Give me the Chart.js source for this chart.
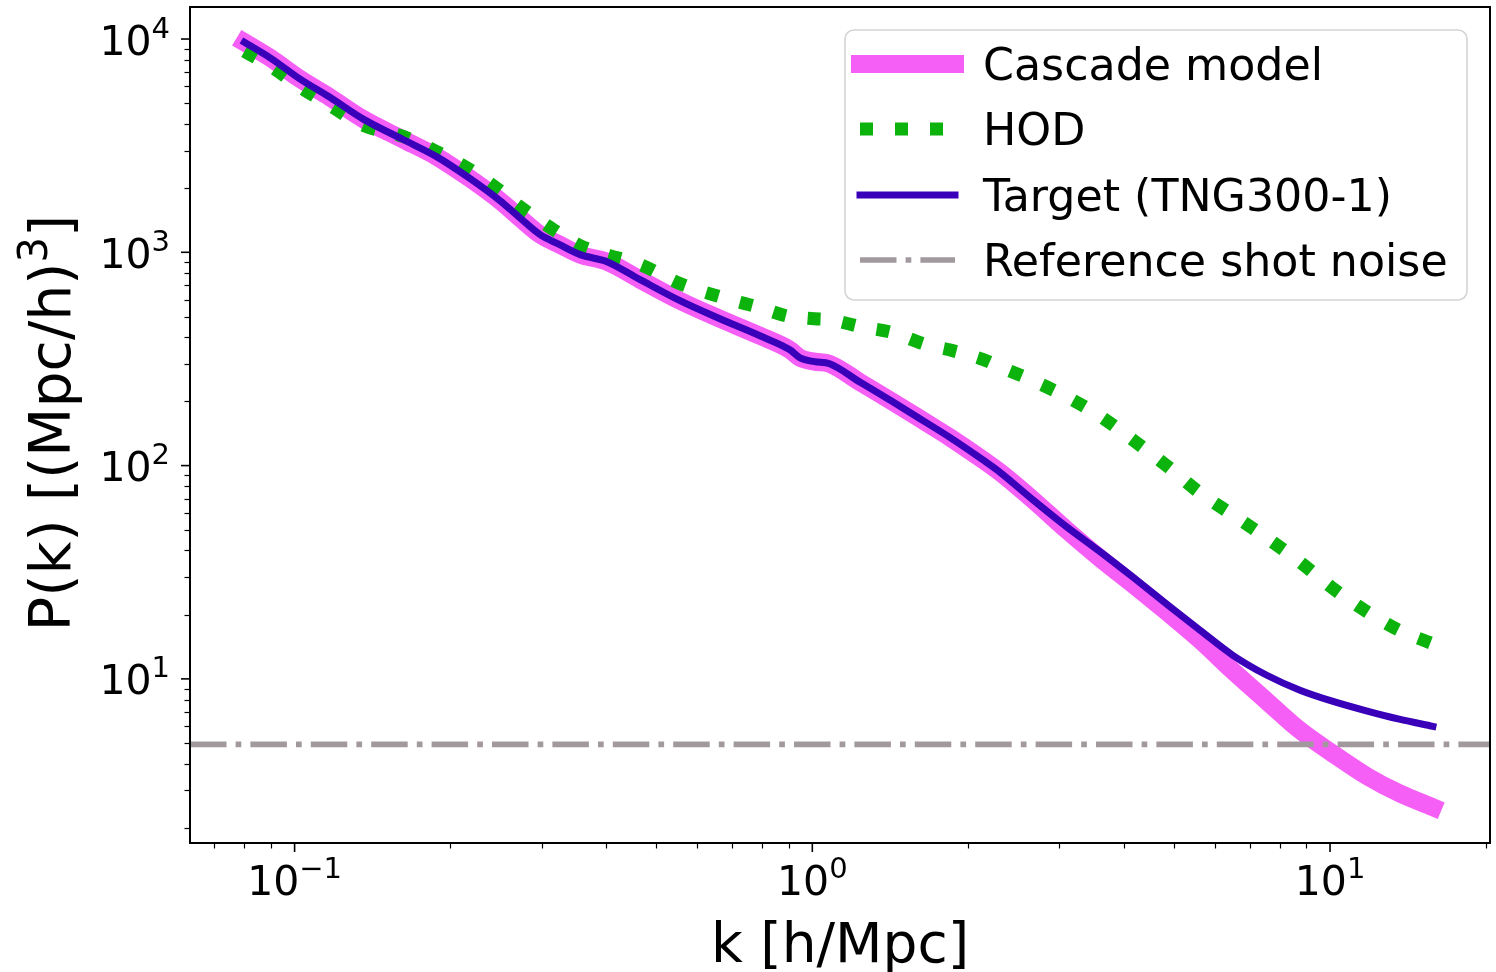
<!DOCTYPE html>
<html>
<head>
<meta charset="utf-8">
<script src="https://cdn.jsdelivr.net/npm/chart.js@4.4.0/dist/chart.umd.min.js"></script>
<style>
  html, body { margin: 0; padding: 0; background: #fff; }
  #chart-container { width: 1496px; height: 972px; }
</style>
</head>
<body>
<div id="chart-container"><canvas id="myChart" width="1496" height="972"></canvas></div>
<script>
// k bins [h/Mpc], shared by all curves
const kValues = [0.080, 0.090, 0.102, 0.117, 0.136, 0.162, 0.188, 0.218, 0.249, 0.272,
  0.298, 0.325, 0.356, 0.401, 0.465, 0.555, 0.663, 0.792, 0.905, 0.947,
  1.01, 1.08, 1.24, 1.43, 1.66, 1.84, 2.14, 2.30, 2.67, 3.10,
  3.59, 4.16, 4.84, 5.61, 6.49, 7.55, 8.75, 10.1, 11.8, 13.6, 15.8];

// P(k) [(Mpc/h)^3]
const targetP = [9650, 8120, 6540, 5330, 4200, 3380, 2810, 2220, 1750, 1455,
  1210, 1087, 975, 904, 744, 593, 488, 406, 349, 320,
  307, 300, 245, 199, 159, 136, 106, 93.4, 69.0, 51.6,
  39.6, 30.0, 22.4, 16.9, 12.9, 10.4, 8.85, 7.86, 7.06, 6.47, 5.99];
const cascadeP = [9650, 8120, 6540, 5330, 4200, 3380, 2810, 2220, 1750, 1455,
  1210, 1087, 975, 904, 744, 593, 488, 406, 349, 320,
  307, 300, 245, 199, 159, 136, 106, 93.4, 69.0, 49.9,
  36.9, 27.8, 20.6, 15.2, 10.9, 7.86, 5.74, 4.48, 3.49, 2.91, 2.50];
const hodP = [8756, 7443, 5997, 4883, 3932, 3494, 2970, 2445, 1949, 1639,
  1408, 1224, 1075, 975, 876, 713, 619, 550, 499, 494,
  488, 483, 448, 420, 369, 349, 314, 291, 250, 210,
  171, 132, 99.7, 74.4, 58.7, 45.8, 35.3, 26.7, 20.6, 16.9, 14.6];
const shotNoise = 4.93;

// axis limits and tick labels
const xLimits = [0.0628, 20.37];
const yLimits = [1.70, 14130];
const xMajorTicks = [0.1, 1, 10];
const xTickExponents = ["\u22121", "0", "1"];
const yMajorTicks = [10, 100, 1000, 10000];
const yTickExponents = ["1", "2", "3", "4"];
const seriesLabels = ["Cascade model", "HOD", "Target (TNG300-1)", "Reference shot noise"];

const fontFamily = '"DejaVu Sans", sans-serif';

// minor tick values (m * 10^e) inside the limits
function minorTicks(lo, hi) {
  const out = [];
  for (let e = -3; e <= 5; e++) {
    for (let m = 2; m <= 9; m++) {
      const v = m * Math.pow(10, e);
      if (v >= lo && v <= hi) out.push(v);
    }
  }
  return out;
}

// draw "10^n" style label, base + raised exponent
function drawPower(ctx, base, exp, x, baseline, align) {
  ctx.font = "41px " + fontFamily;
  const wb = ctx.measureText(base).width;
  ctx.font = "29px " + fontFamily;
  const we = ctx.measureText(exp).width;
  const x0 = align === "center" ? x - (wb + we) / 2 : x - wb - we;
  ctx.textAlign = "left";
  ctx.textBaseline = "alphabetic";
  ctx.font = "41px " + fontFamily;
  ctx.fillText(base, x0, baseline);
  ctx.font = "29px " + fontFamily;
  ctx.fillText(exp, x0 + wb, baseline - 17);
}

const axesDecor = {
  id: "axesDecor",
  afterDatasetsDraw(chart) {
    const ctx = chart.ctx;
    const area = chart.chartArea;
    const xs = chart.scales.x;
    const ys = chart.scales.y;
    ctx.save();
    ctx.strokeStyle = "#000";
    ctx.fillStyle = "#000";

    // spines
    ctx.lineWidth = 2;
    ctx.strokeRect(area.left, area.top, area.right - area.left, area.bottom - area.top);

    // x ticks
    ctx.lineWidth = 1.2;
    minorTicks(xLimits[0], xLimits[1]).forEach((v) => {
      const px = Math.round(xs.getPixelForValue(v)) + 0.5;
      ctx.beginPath();
      ctx.moveTo(px, area.bottom);
      ctx.lineTo(px, area.bottom + 5.5);
      ctx.stroke();
    });
    ctx.lineWidth = 1.6;
    xMajorTicks.forEach((v, i) => {
      const px = xs.getPixelForValue(v);
      ctx.beginPath();
      ctx.moveTo(px, area.bottom);
      ctx.lineTo(px, area.bottom + 9);
      ctx.stroke();
      drawPower(ctx, "10", xTickExponents[i], px, 895, "center");
    });

    // y ticks
    ctx.lineWidth = 1.2;
    minorTicks(yLimits[0], yLimits[1]).forEach((v) => {
      const py = Math.round(ys.getPixelForValue(v)) + 0.5;
      ctx.beginPath();
      ctx.moveTo(area.left, py);
      ctx.lineTo(area.left - 5.5, py);
      ctx.stroke();
    });
    ctx.lineWidth = 1.6;
    yMajorTicks.forEach((v, i) => {
      const py = ys.getPixelForValue(v);
      ctx.beginPath();
      ctx.moveTo(area.left, py);
      ctx.lineTo(area.left - 9, py);
      ctx.stroke();
      drawPower(ctx, "10", yTickExponents[i], 170, py + 15.5, "right");
    });

    // x axis title
    ctx.font = "55px " + fontFamily;
    ctx.textAlign = "center";
    ctx.textBaseline = "alphabetic";
    ctx.fillText("k [h/Mpc]", (area.left + area.right) / 2, 962);

    // y axis title, rotated, with superscript 3
    ctx.save();
    ctx.translate(70, (area.top + area.bottom) / 2 - 2);
    ctx.rotate(-Math.PI / 2);
    const partA = "P(k) [(Mpc/h)";
    const partB = "3";
    const partC = "]";
    ctx.font = "57px " + fontFamily;
    const wa = ctx.measureText(partA).width;
    const wc = ctx.measureText(partC).width;
    ctx.font = "40px " + fontFamily;
    const wbSup = ctx.measureText(partB).width;
    let tx = -(wa + wbSup + wc) / 2;
    ctx.textAlign = "left";
    ctx.font = "57px " + fontFamily;
    ctx.fillText(partA, tx, 0);
    tx += wa;
    ctx.font = "40px " + fontFamily;
    ctx.fillText(partB, tx, -23);
    tx += wbSup;
    ctx.font = "57px " + fontFamily;
    ctx.fillText(partC, tx, 0);
    ctx.restore();

    ctx.restore();
  },
  afterDraw(chart) {
    // legend box in the upper right
    const ctx = chart.ctx;
    const box = { left: 845, top: 30, right: 1467, bottom: 300, r: 9 };
    ctx.save();
    ctx.beginPath();
    ctx.roundRect(box.left, box.top, box.right - box.left, box.bottom - box.top, box.r);
    ctx.fillStyle = "rgba(255,255,255,0.8)";
    ctx.fill();
    ctx.strokeStyle = "#d4d4d4";
    ctx.lineWidth = 1.6;
    ctx.stroke();

    const rowY = [64, 129, 195, 260];
    const order = [3, 2, 1, 0]; // dataset index per legend row
    const ds = chart.data.datasets;
    order.forEach((dsIndex, row) => {
      const d = ds[dsIndex];
      const y = rowY[row];
      ctx.beginPath();
      ctx.strokeStyle = d.borderColor;
      ctx.lineWidth = d.borderWidth;
      ctx.lineCap = d.borderCapStyle || "butt";
      ctx.setLineDash(d.borderDash || []);
      ctx.moveTo(860, y);
      ctx.lineTo(955, y);
      ctx.stroke();
      ctx.setLineDash([]);
      ctx.fillStyle = "#000";
      ctx.font = "44.3px " + fontFamily;
      ctx.textAlign = "left";
      ctx.textBaseline = "alphabetic";
      ctx.fillText(d.label, 983, y + 16);
    });
    ctx.restore();
  }
};

const toPoints = (ys) => kValues.map((k, i) => ({ x: k, y: ys[i] }));

const ctx = document.getElementById("myChart").getContext("2d");
const chart = new Chart(ctx, {
  type: "line",
  data: {
    datasets: [
      {
        label: seriesLabels[3],
        data: [{ x: xLimits[0], y: shotNoise }, { x: xLimits[1], y: shotNoise }],
        borderColor: "#a2999f",
        borderWidth: 5.7,
        borderDash: [36.5, 9.1, 5.7, 9.1],
        order: 1,
      },
      {
        label: seriesLabels[2],
        data: toPoints(targetP),
        borderColor: "#3a00b9",
        borderWidth: 7,
        borderCapStyle: "square",
        cubicInterpolationMode: "monotone",
        order: 2,
      },
      {
        label: seriesLabels[1],
        data: toPoints(hodP),
        borderColor: "#0cb30c",
        borderWidth: 13,
        borderDash: [13, 22],
        cubicInterpolationMode: "monotone",
        order: 3,
      },
      {
        label: seriesLabels[0],
        data: toPoints(cascadeP),
        borderColor: "#f55ff5",
        borderWidth: 18,
        borderCapStyle: "square",
        cubicInterpolationMode: "monotone",
        order: 4,
      },
    ],
  },
  options: {
    responsive: false,
    devicePixelRatio: 1,
    animation: false,
    layout: { padding: { top: 7, right: 6, left: 0, bottom: 0 } },
    elements: {
      point: { radius: 0 },
      line: { tension: 0, fill: false, borderJoinStyle: "round" },
    },
    plugins: {
      legend: { display: false },
      tooltip: { enabled: false },
    },
    scales: {
      x: {
        type: "logarithmic",
        min: xLimits[0],
        max: xLimits[1],
        grid: { display: false },
        border: { display: false },
        ticks: { display: false },
        afterFit: (s) => { s.height = 129; },
      },
      y: {
        type: "logarithmic",
        min: yLimits[0],
        max: yLimits[1],
        grid: { display: false },
        border: { display: false },
        ticks: { display: false },
        afterFit: (s) => { s.width = 190; },
      },
    },
  },
  plugins: [axesDecor],
});
</script>
</body>
</html>
